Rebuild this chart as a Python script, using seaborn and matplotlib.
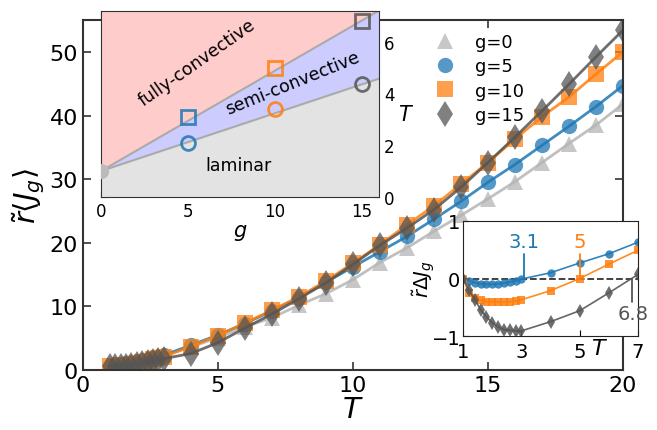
import numpy as np
import pandas as pd
import matplotlib
matplotlib.use('Agg')
import matplotlib.pyplot as plt
from matplotlib.lines import Line2D
import seaborn as sns

# ---- data ----
T_main = [1.0, 1.2, 1.4, 1.6, 1.8, 2.0, 2.2, 2.4, 2.6, 2.8, 3.0,
          4, 5, 6, 7, 8, 9, 10, 11, 12, 13, 14, 15, 16, 17, 18, 19, 20]
J_g0 = [0.6, 0.75, 0.9, 1.05, 1.2, 1.4, 1.55, 1.75, 1.95, 2.15, 2.35,
        3.6, 5.1, 6.8, 8.2, 10.2, 12.0, 14.2, 16.9, 19.2, 21.8, 24.3, 26.9, 29.6, 32.6, 35.6, 38.5, 41.8]
J_g5 = [0.6, 0.7, 0.85, 1.0, 1.15, 1.3, 1.5, 1.7, 1.9, 2.1, 2.35,
        3.9, 5.5, 7.3, 9.3, 11.4, 13.8, 16.2, 18.6, 21.0, 23.7, 26.5, 29.5, 32.3, 35.3, 38.3, 41.4, 44.7]
J_g10 = [0.6, 0.65, 0.75, 0.85, 1.0, 1.15, 1.3, 1.5, 1.7, 1.9, 2.1,
         3.7, 5.4, 7.4, 9.4, 11.5, 14.0, 16.8, 19.7, 22.8, 25.8, 29.2, 32.6, 36.3, 39.8, 42.9, 46.5, 50.0]
J_g15 = [0.6, 0.6, 0.65, 0.7, 0.8, 0.9, 1.05, 1.2, 1.4, 1.6, 1.8,
         2.6, 4.3, 6.6, 8.8, 11.2, 13.7, 16.6, 19.6, 22.3, 25.2, 28.7, 32.6, 36.6, 40.7, 44.9, 49.2, 53.4]

# phase diagram inset
g_phase = [5, 10, 15]
T_semi = [2.1, 3.4, 4.35]      # circles: laminar -> semi-convective
T_full = [3.1, 5.0, 6.8]       # squares: semi -> fully convective
g_bound = [0, 16]
T_bound_upper = [1.0, 7.2]
T_bound_lower = [1.0, 4.57]
g_origin = [0]
T_origin = [1.0]

# difference inset
T_diff = [1.0, 1.2, 1.4, 1.6, 1.8, 2.0, 2.2, 2.4, 2.6, 2.8, 3.0, 4, 5, 6, 7]
dJ_g5 = [0.0, -0.04, -0.07, -0.09, -0.1, -0.1, -0.09, -0.08, -0.06, -0.04, -0.01, 0.1, 0.27, 0.43, 0.63]
dJ_g10 = [0.0, -0.26, -0.34, -0.38, -0.4, -0.4, -0.41, -0.41, -0.4, -0.39, -0.37, -0.21, 0.0, 0.25, 0.49]
dJ_g15 = [0.0, -0.2, -0.37, -0.54, -0.67, -0.77, -0.84, -0.89, -0.9, -0.91, -0.91, -0.75, -0.56, -0.25, 0.07]
cross_T = [3.1, 5.0, 6.8]
cross_labels = ['3.1', '5', '6.8']

labels = ['g=0', 'g=5', 'g=10', 'g=15']
colors = ['#b5b5b5', '#1f77b4', '#ff7f0e', '#555555']
markers = ['^', 'o', 's', 'd']
msizes = [11, 11, 11, 13]

sns.set_style("ticks")
plt.rcParams['font.family'] = ['DejaVu Sans']
plt.rcParams['text.color'] = 'black'
plt.rcParams['axes.labelcolor'] = 'black'
plt.rcParams['xtick.color'] = 'black'
plt.rcParams['ytick.color'] = 'black'

fig = plt.figure(figsize=(6.57, 4.31), dpi=100)
ax = fig.add_axes([0.126, 0.139, 0.822, 0.812])

df = pd.DataFrame({'T': T_main * 4,
                   'J': J_g0 + J_g5 + J_g10 + J_g15,
                   'g': sum([[l] * len(T_main) for l in labels], [])})

for lab, c, m, ms in zip(labels, colors, markers, msizes):
    sub = df[df['g'] == lab]
    sns.lineplot(data=sub, x='T', y='J', ax=ax, color=c, lw=2, alpha=0.85)
    ax.plot(sub['T'], sub['J'], ls='none', marker=m, ms=ms, color=c, alpha=0.75,
            markeredgewidth=0)

ax.set_xlim(0, 20)
ax.set_ylim(0, 55)
ax.set_xticks([0, 5, 10, 15, 20])
ax.set_yticks([0, 10, 20, 30, 40, 50])
ax.tick_params(direction='in', top=True, right=True, labelsize=16, length=6, width=1.2,
               color='#333333')
for s in ax.spines.values():
    s.set_color('#333333')
    s.set_linewidth(1.5)
ax.set_xlabel('$T$', fontsize=21, labelpad=0)
ax.set_ylabel(r'$\tilde{r}\langle J_g\rangle$', fontsize=21, labelpad=2)

handles = [Line2D([], [], ls='none', marker=m, color=c, ms=ms,
                  alpha=0.75, markeredgewidth=0) for c, m, ms in zip(colors, markers, msizes)]
ax.legend(handles, labels, loc='upper left', bbox_to_anchor=(0.62, 1.01), frameon=False,
          fontsize=13, handletextpad=1.1, labelspacing=0.35, handlelength=1.2)

# ---- phase diagram inset ----
ax1 = fig.add_axes([0.154, 0.541, 0.423, 0.432])
ax1.set_xlim(0, 16)
ax1.set_ylim(0, 7.2)
ax1.fill_between(g_bound, T_bound_upper, 7.2, color='#ffcccc', lw=0)
ax1.fill_between(g_bound, T_bound_lower, T_bound_upper, color='#ccccff', lw=0)
ax1.fill_between(g_bound, 0, T_bound_lower, color='#e3e3e3', lw=0)
sns.lineplot(x=g_bound, y=T_bound_upper, ax=ax1, color='#aaaaaa', lw=1.5)
sns.lineplot(x=g_bound, y=T_bound_lower, ax=ax1, color='#aaaaaa', lw=1.5)
ax1.plot(g_origin, T_origin, 'o', ms=11, color='#bbbbbb', markeredgewidth=0, zorder=5)
for gx, ts, tf, c in zip(g_phase, T_semi, T_full, colors[1:]):
    ax1.plot([gx], [ts], 'o', ms=10, mfc='none', mec=c, mew=2, alpha=0.85, zorder=5)
    ax1.plot([gx], [tf], 's', ms=10, mfc='none', mec=c, mew=2, alpha=0.85, zorder=5)
ax1.text(5.5, 5.2, 'fully-convective', rotation=35, ha='center', va='center', fontsize=12.5)
ax1.text(11.0, 4.4, 'semi-convective', rotation=22, ha='center', va='center', fontsize=12.5)
ax1.text(7.9, 1.25, 'laminar', ha='center', va='center', fontsize=12.5)
ax1.set_xticks([0, 5, 10, 15])
ax1.set_yticks([0, 2, 4, 6])
ax1.yaxis.tick_right()
ax1.yaxis.set_label_position('right')
ax1.tick_params(direction='in', top=True, left=True, right=True, labelsize=12, length=4)
ax1.set_xlabel('$g$', fontsize=15, labelpad=2)
ax1.set_ylabel('$T$', fontsize=15, rotation=0, labelpad=8)
for s in ax1.spines.values():
    s.set_color('#333333')

# ---- difference inset ----
ax2 = fig.add_axes([0.705, 0.218, 0.266, 0.267])
ax2.set_facecolor('white')
ax2.axhline(0, color='#333333', ls='--', lw=1.3)
diff_series = [dJ_g5, dJ_g10, dJ_g15]
for d, c, m in zip(diff_series, colors[1:], markers[1:]):
    sns.lineplot(x=T_diff, y=d, ax=ax2, color=c, lw=1.2, alpha=0.9)
    ax2.plot(T_diff, d, ls='none', marker=m, ms=(7 if m == 'd' else 6), color=c,
             alpha=0.85, markeredgewidth=0)
for tx, lab, c, up in zip(cross_T, cross_labels, colors[1:], [True, True, False]):
    if up:
        ax2.plot([tx, tx], [0, 0.42], color=c, lw=1.3)
        ax2.text(tx, 0.48, lab, color=c, ha='center', va='bottom', fontsize=14)
    else:
        ax2.plot([tx, tx], [0, -0.4], color=c, lw=1.3)
        ax2.text(tx + 0.05, -0.45, lab, color=c, ha='center', va='top', fontsize=14)
ax2.set_xlim(1, 7)
ax2.set_ylim(-1, 1)
ax2.set_xticks([1, 3, 5, 7])
ax2.set_yticks([-1, 0, 1])
ax2.tick_params(axis='x', direction='in', labelsize=14, length=4, pad=4)
ax2.tick_params(axis='y', direction='in', labelsize=14, length=4, pad=2)
ax2.set_ylabel(r'$\tilde{r}\Delta J_g$', fontsize=14, labelpad=-4)
ax2.set_xlabel('$T$', fontsize=16)
ax2.xaxis.set_label_coords(0.78, -0.02)
for s in ax2.spines.values():
    s.set_color('#222222')

fig.savefig('out.png', dpi=100)
